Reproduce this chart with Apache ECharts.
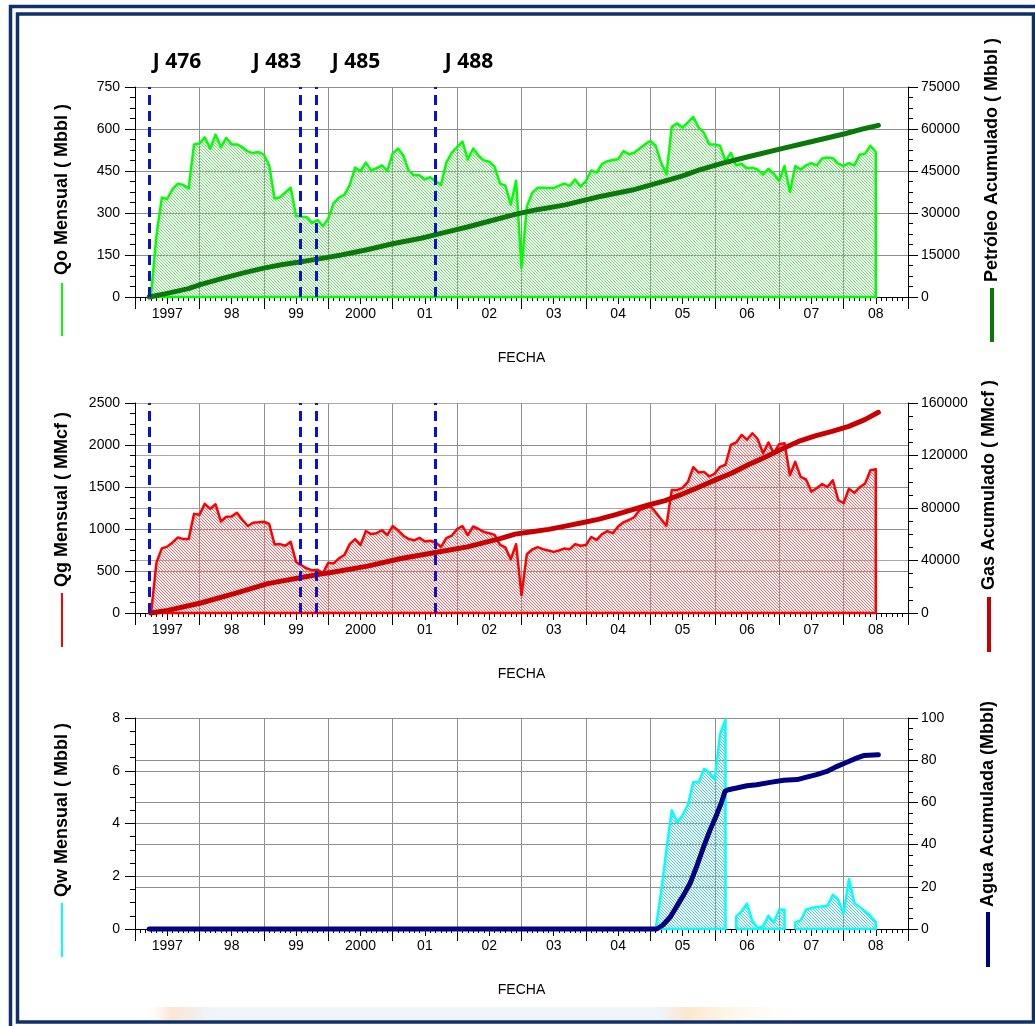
<!DOCTYPE html>
<html>
<head>
<meta charset="utf-8">
<script src="https://cdn.jsdelivr.net/npm/echarts@6/dist/echarts.min.js"></script>
<style>
html,body{margin:0;padding:0;background:#fff}
#chart{width:1035px;height:1026px}
</style>
</head>
<body>
<div id="chart"></div>
<script>
// ---- Production history of the field (monthly rates and cumulatives) ----
const yearLabels = ['1997', '98', '99', '2000', '01', '02', '03', '04', '05', '06', '07', '08'];

// Monthly oil (Mbbl) and gas (MMcf), first producing month: April 1997
const prodStart = [1997, 4];
const oilMonthly = [
  10, 220, 355, 350, 385, 405, 400, 388, 545,
  548, 570, 530, 580, 535, 568, 545, 545, 535, 520, 514, 518,
  508, 470, 352, 356, 373, 390, 290, 287, 285, 265, 275, 253,
  280, 335, 355, 365, 400, 462, 450, 480, 452, 460, 470, 450,
  513, 530, 505, 450, 435, 435, 420, 428, 414, 400, 480, 515,
  535, 555, 491, 530, 505, 488, 483, 465, 405, 398, 330, 415,
  103, 323, 372, 390, 390, 389, 389, 398, 405, 397, 420, 395,
  414, 452, 444, 475, 485, 489, 492, 521, 510, 515, 530, 545,
  557, 540, 480, 438, 608, 620, 605, 624, 643, 605, 585, 545,
  545, 540, 485, 515, 470, 476, 460, 462, 455, 437, 458, 440,
  415, 468, 375, 468, 455, 470, 478, 470, 495, 498, 496, 476,
  468, 478, 470, 508, 512, 540, 518
];
const gasMonthly = [
  20, 600, 770, 790, 840, 900, 880, 880, 1180,
  1170, 1300, 1240, 1295, 1090, 1146, 1150, 1194, 1110, 1035, 1075, 1080,
  1087, 1060, 816, 820, 800, 848, 609, 569, 529, 510, 515, 475,
  597, 590, 650, 690, 820, 880, 810, 975, 940, 950, 985, 930,
  1035, 985, 920, 880, 865, 895, 850, 860, 840, 788, 890, 920,
  1000, 1035, 928, 1030, 1000, 965, 950, 930, 810, 780, 640, 820,
  210, 700, 756, 785, 760, 745, 728, 745, 768, 760, 820, 800,
  810, 905, 870, 940, 975, 950, 1030, 1080, 1107, 1140, 1225, 1250,
  1274, 1200, 1115, 1040, 1465, 1465, 1490, 1560, 1735, 1672, 1680, 1625,
  1660, 1740, 1765, 2000, 2030, 2120, 2062, 2140, 2070, 1900, 2030, 1903,
  2010, 2022, 1640, 1800, 1620, 1590, 1445, 1485, 1535, 1500, 1580, 1345,
  1306, 1480, 1430, 1497, 1540, 1700, 1712
];

// Monthly water (Mbbl) from February 2005; null = no report that month
const waterStart = [2005, 2];
const waterMonthly = [
  0, 1.39, 3.0, 4.5, 4.05, 4.3, 4.7, 5.56, 5.56, 6.07, 5.94,
  5.66, 7.4, 7.94, null, 0.48, 0.67, 0.96, 0.3, 0.04, 0.1, 0.5, 0.25,
  0.73, 0.73, null, 0.25, 0.33, 0.73, 0.8, 0.83, 0.85, 0.88, 1.3, 1.11,
  0.58, 1.9, 0.99, 0.83, 0.67, 0.5, 0.25
];

// Cumulative oil (Mbbl)
const oilCumDates = [1997.22, 1997.5, 1997.83, 1998.0, 1998.33, 1998.7, 1999.0, 1999.27, 1999.58, 1999.88,
  2000.2, 2000.6, 2001.0, 2001.44, 2001.75, 2002.16, 2002.57, 2002.9, 2003.22, 2003.68, 2004.2, 2004.72,
  2005.23, 2005.49, 2005.75, 2006.11, 2006.52, 2007.04, 2007.56, 2008.02, 2008.33, 2008.54];
const oilCum = [0, 1300, 3000, 4300, 6500, 8700, 10300, 11500, 12600, 13700,
  15000, 16900, 19000, 21000, 22700, 25000, 27500, 29500, 31100, 32900, 35800, 38200,
  41500, 43200, 45300, 47700, 50100, 53000, 55800, 58300, 60200, 61300];

// Cumulative gas (MMcf)
const gasCumDates = [1997.24, 1997.51, 1998.02, 1998.54, 1999.06, 1999.58, 1999.88, 2000.09, 2000.61, 2001.13,
  2001.64, 2002.16, 2002.68, 2002.9, 2003.16, 2003.42, 2003.68, 2003.94, 2004.19, 2004.45, 2004.71, 2004.97,
  2005.23, 2005.49, 2005.75, 2006.01, 2006.26, 2006.52, 2006.78, 2007.04, 2007.3, 2007.56, 2007.82, 2008.08,
  2008.33, 2008.54];
const gasCum = [0, 2000, 7600, 14800, 22400, 27000, 29600, 31300, 35700, 41500,
  45900, 50400, 56800, 60100, 61900, 63700, 66200, 68800, 71300, 74700, 78500, 82300,
  85600, 90500, 95800, 101400, 106500, 112900, 118700, 124900, 130700, 135000, 138400, 142200,
  147300, 152900];

// Cumulative water (Mbbl)
const waterCumDates = [1997.22, 2005.1, 2005.2, 2005.31, 2005.41, 2005.52, 2005.62, 2005.72, 2005.83, 2005.93,
  2006.03, 2006.11, 2006.16, 2006.21, 2006.34, 2006.5, 2006.65, 2006.86, 2007.07, 2007.28, 2007.38,
  2007.58, 2007.74, 2007.9, 2008.05, 2008.21, 2008.31, 2008.54];
const waterCum = [0, 0, 2, 5.7, 10.7, 16.3, 21.8, 29.7, 39.2, 47.1,
  54.2, 60.5, 65.3, 66, 66.8, 67.9, 68.4, 69.5, 70.5, 70.8, 71.6,
  73.2, 74.7, 77.1, 79, 81.1, 82.2, 82.6];

// Wells brought on line (decimal year)
const wellNames = ['J 476', 'J 483', 'J 485', 'J 488'];
const wellDates = [1997.22, 1999.57, 1999.82, 2001.66];

// ---- helpers ----
const FONT = '"Liberation Sans", Arial, Helvetica, sans-serif';

function monthlyPoints(start, values) {
  return values.map((v, i) => [start[0] + (start[1] - 1 + i) / 12, v]);
}

// Outline each producing run as a closed shape: up from zero, along the rates,
// down to zero and back along the base line.
function closedRuns(points) {
  const out = [];
  let run = [];
  const flush = () => {
    if (!run.length) return;
    const x0 = run[0][0], x1 = run[run.length - 1][0];
    out.push([x0, 0], ...run, [x1, 0], [x0, 0], ['-', '-']);
    run = [];
  };
  points.forEach(p => { if (p[1] == null) flush(); else run.push(p); });
  flush();
  return out;
}

function pairs(xs, ys) { return xs.map((x, i) => [x, ys[i]]); }

function hatch(color) {
  const c = document.createElement('canvas');
  c.width = 3; c.height = 3;
  const g = c.getContext('2d');
  g.fillStyle = color;
  for (let i = 0; i < 3; i++) g.fillRect(i, i, 1, 1);
  return { image: c, repeat: 'repeat' };
}

const GRIDS = [
  { left: 135, right: 127, top: 87, height: 210 },
  { left: 135, right: 127, top: 403, height: 210 },
  { left: 135, right: 127, top: 718, height: 211 }
];

const GRID_COLOR = '#8f8f8f';

function timeAxis(g) {
  return {
    type: 'value', gridIndex: g, position: 'bottom', min: 1997, max: 2009, interval: 1,
    axisLine: { show: true, onZero: false, lineStyle: { color: '#000', width: 1 } },
    axisTick: { show: true, length: 12, lineStyle: { color: '#000' } },
    minorTick: { show: true, splitNumber: 12, length: 4, lineStyle: { color: '#000' } },
    axisLabel: { show: false },
    splitLine: { show: true, lineStyle: { color: GRID_COLOR, width: 1 } }
  };
}

function yearAxis(g) {
  return {
    type: 'category', gridIndex: g, position: 'bottom', data: yearLabels, boundaryGap: true,
    axisLine: { show: false },
    axisTick: { show: true, alignWithLabel: true, length: 7, lineStyle: { color: '#000' } },
    axisLabel: { interval: 0, margin: 10, color: '#000', fontSize: 14, fontFamily: FONT },
    splitLine: { show: false },
    name: 'FECHA', nameLocation: 'middle', nameGap: 54,
    nameTextStyle: { color: '#000', fontSize: 14, fontFamily: FONT }
  };
}

function valueAxis(g, pos, max, interval, split, splitColor) {
  return {
    type: 'value', gridIndex: g, position: pos, min: 0, max: max, interval: interval,
    axisLine: { show: true, lineStyle: { color: '#000', width: 1 } },
    axisTick: { show: true, length: 10, lineStyle: { color: '#000' } },
    minorTick: { show: true, splitNumber: 4, length: 5, lineStyle: { color: '#000' } },
    axisLabel: { color: '#000', fontSize: 14, fontFamily: FONT, margin: pos === 'left' ? 15 : 13,
      formatter: v => String(v) },
    splitLine: { show: split, lineStyle: { color: splitColor || GRID_COLOR, width: 1 } }
  };
}

const wellMarks = {
  silent: true,
  symbol: ['none', 'none'],
  label: { show: false },
  lineStyle: { color: '#0a12d0', width: 3, type: [10, 6] },
  data: wellDates.map(d => ({ xAxis: d }))
};

function rateSeries(x, y, data, lineColor, hatchColor) {
  return {
    type: 'line', xAxisIndex: x, yAxisIndex: y, data: data,
    symbol: 'none', clip: false, z: 2, silent: true,
    lineStyle: { color: lineColor, width: 2.5, join: 'round' },
    areaStyle: { color: hatch(hatchColor), opacity: 1 }
  };
}

function cumSeries(x, y, data, color, marks) {
  const s = {
    type: 'line', xAxisIndex: x, yAxisIndex: y, data: data,
    symbol: 'none', clip: false, z: 3, silent: true,
    lineStyle: { color: color, width: 5, cap: 'round', join: 'round' }
  };
  if (marks) s.markLine = marks;
  return s;
}

const OIL = '#00ff00', OIL_CUM = '#0a780a';
const GAS = '#ff0000', GAS_CUM = '#c80000';
const WAT = '#00ffff', WAT_CUM = '#000080';

// ---- axis titles with their line keys, frame and well labels ----
function vTitle(text, x, y, key, keyColor, keyWidth) {
  return [
    { type: 'text', x: x, y: y, rotation: Math.PI / 2,
      style: { text: text, fill: '#000', fontSize: 18, fontWeight: 'bold', fontFamily: FONT,
        align: 'left', verticalAlign: 'middle', textAlign: 'left', textVerticalAlign: 'middle' } },
    { type: 'line', shape: { x1: x, y1: key[0], x2: x, y2: key[1] },
      style: { stroke: keyColor, lineWidth: keyWidth } }
  ];
}

const NAVY = '#10306b';
const graphics = [
  { type: 'rect', shape: { x: 20, y: 1007, width: 1011, height: 13 }, z: -1,
    style: { fill: { type: 'linear', x: 0, y: 0, x2: 1, y2: 0, colorStops: [
      { offset: 0, color: 'rgba(255,255,255,0)' },
      { offset: 0.12, color: 'rgba(255,255,255,0)' },
      { offset: 0.15, color: 'rgba(252,226,206,0.9)' },
      { offset: 0.19, color: 'rgba(236,244,250,0.9)' },
      { offset: 0.63, color: 'rgba(236,244,250,0.9)' },
      { offset: 0.66, color: 'rgba(252,228,200,0.9)' },
      { offset: 0.7, color: 'rgba(252,244,224,0.8)' },
      { offset: 0.8, color: 'rgba(255,255,255,0)' },
      { offset: 1, color: 'rgba(255,255,255,0)' }] } } },
  { type: 'rect', shape: { x: 10.5, y: 6.5, width: 1100, height: 1100 },
    style: { fill: null, stroke: NAVY, lineWidth: 3.5 } },
  { type: 'rect', shape: { x: 17.5, y: 14, width: 1016, height: 1008 },
    style: { fill: null, stroke: NAVY, lineWidth: 3.5 } },
  ...vTitle('Qo Mensual ( Mbbl )', 62, 275, [283, 336], OIL, 2),
  ...vTitle('Petróleo Acumulado ( Mbbl )', 992, 282, [288, 342], OIL_CUM, 4),
  ...vTitle('Qg Mensual ( MMcf )', 62, 587, [593, 647], GAS, 2),
  ...vTitle('Gas Acumulado ( MMcf )', 989, 590, [597, 652], GAS_CUM, 4),
  ...vTitle('Qw Mensual ( Mbbl )', 62, 897, [903, 957], WAT, 2),
  ...vTitle('Agua Acumulada (Mbbl)', 988, 907, [912, 967], WAT_CUM, 4)
];
const wellLabelX = [177, 277, 356, 469];
wellNames.forEach((name, i) => {
  graphics.push({ type: 'text', x: wellLabelX[i], y: 62,
    style: { text: name, fill: '#000', fontSize: 21, fontWeight: 'bold', fontFamily: '"Open Sans", ' + FONT,
      align: 'center', verticalAlign: 'middle', textAlign: 'center', textVerticalAlign: 'middle' } });
});

const option = {
  animation: false,
  backgroundColor: '#fff',
  textStyle: { fontFamily: FONT },
  grid: GRIDS,
  xAxis: [timeAxis(0), yearAxis(0), timeAxis(1), yearAxis(1), timeAxis(2), yearAxis(2)],
  yAxis: [
    valueAxis(0, 'left', 750, 150, true),
    valueAxis(0, 'right', 75000, 15000, false),
    valueAxis(1, 'left', 2500, 500, true),
    valueAxis(1, 'right', 160000, 40000, true, '#a8a8a8'),
    valueAxis(2, 'left', 8, 2, true),
    valueAxis(2, 'right', 100, 20, true)
  ],
  series: [
    rateSeries(0, 0, closedRuns(monthlyPoints(prodStart, oilMonthly)), OIL, '#66e466'),
    cumSeries(0, 1, pairs(oilCumDates, oilCum), OIL_CUM, wellMarks),
    rateSeries(2, 2, closedRuns(monthlyPoints(prodStart, gasMonthly)), GAS, '#ff6262'),
    cumSeries(2, 3, pairs(gasCumDates, gasCum), GAS_CUM, wellMarks),
    rateSeries(4, 4, closedRuns(monthlyPoints(waterStart, waterMonthly)), WAT, '#40cfdc'),
    cumSeries(4, 5, pairs(waterCumDates, waterCum), WAT_CUM)
  ],
  graphic: { elements: graphics }
};

const chart = echarts.init(document.getElementById('chart'), null, { renderer: 'canvas' });
chart.setOption(option);
</script>
</body>
</html>
